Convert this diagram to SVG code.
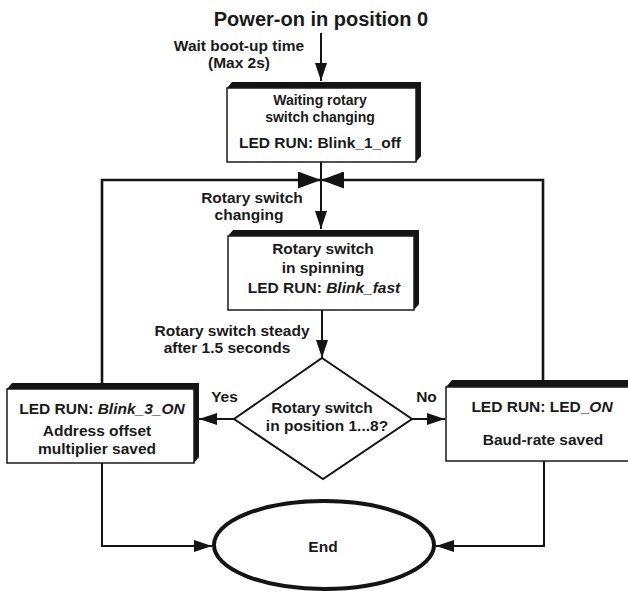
<svg xmlns="http://www.w3.org/2000/svg" width="628" height="594" viewBox="0 0 628 594">
  <style>
    text { font-family: "Liberation Sans", Arial, sans-serif; font-weight: bold; fill: #1a1a1a; text-anchor: middle; }
    .t15 { font-size: 15.5px; }
    .t14 { font-size: 14px; }
    .title { font-size: 20px; }
    .it { font-style: italic; }
    .shadow { fill: #141414; }
    .face { fill: #ffffff; stroke: #1a1a1a; stroke-width: 1.5; }
    .wire { fill: none; stroke: #141414; stroke-width: 2; }
    .loop { fill: none; stroke: #141414; stroke-width: 2.6; }
  </style>
  <defs>
    <marker id="arr" markerUnits="userSpaceOnUse" markerWidth="18" markerHeight="12" refX="18" refY="6" orient="auto">
      <path d="M0,0 L18,6 L0,12 z" fill="#141414"/>
    </marker>
    <marker id="arrBig" markerUnits="userSpaceOnUse" markerWidth="23" markerHeight="17" refX="23" refY="8.5" orient="auto">
      <path d="M0,0 L23,8.5 L0,17 z" fill="#141414"/>
    </marker>
  </defs>

  <rect width="628" height="594" fill="#ffffff"/>

  <!-- start label -->
  <g id="start">
    <text class="title" x="321" y="26">Power-on in position 0</text>
    <text class="t15" x="239" y="51">Wait boot-up time</text>
    <text class="t15" x="239" y="68">(Max 2s)</text>
  </g>

  <!-- connectors -->
  <g id="connectors">
    <path class="wire" d="M321,33 L321,81" marker-end="url(#arr)"/>
    <path class="wire" d="M321,162 L321,229" marker-end="url(#arr)"/>
    <path class="loop" d="M102,383 L102,180 L321,180" marker-end="url(#arrBig)"/>
    <path class="loop" d="M543,380 L543,180 L321,180" marker-end="url(#arrBig)"/>
    <path class="wire" d="M322,310 L322,358" marker-end="url(#arr)"/>
    <path class="wire" d="M234,419 L199,419" marker-end="url(#arr)"/>
    <path class="wire" d="M412,419 L445,419" marker-end="url(#arr)"/>
    <path class="wire" d="M102,463 L102,546 L212,546" marker-end="url(#arr)"/>
    <path class="wire" d="M544,461 L544,546 L436,546" marker-end="url(#arr)"/>
  </g>

  <!-- edge labels -->
  <g id="labels">
    <text class="t15" x="252" y="203">Rotary switch</text>
    <text class="t15" x="249" y="220">changing</text>
    <text class="t15" x="232" y="336">Rotary switch steady</text>
    <text class="t15" x="227" y="353">after 1.5 seconds</text>
    <text class="t15" x="224.5" y="402">Yes</text>
    <text class="t15" x="426.5" y="402">No</text>
  </g>

  <!-- waiting state -->
  <g id="wait">
    <polygon class="shadow" points="227,88 232,82 421,82 421,156 416,162 416,88"/>
    <rect class="face" x="227" y="88" width="189" height="74"/>
    <text class="t14" x="320" y="105">Waiting rotary</text>
    <text class="t14" x="320" y="122">switch changing</text>
    <text class="t15" x="320" y="148">LED RUN: Blink_1_off</text>
  </g>

  <!-- spinning state -->
  <g id="spinning">
    <polygon class="shadow" points="228,236 233,230 419,230 419,304 414,310 414,236"/>
    <rect class="face" x="228" y="236" width="186" height="74"/>
    <text class="t15" x="323" y="254">Rotary switch</text>
    <text class="t15" x="323" y="273">in spinning</text>
    <text class="t15" x="324" y="293">LED RUN: <tspan class="it">Blink_fast</tspan></text>
  </g>

  <!-- decision -->
  <g id="decision">
    <polygon points="322,358 412,419 323,479 234,419" fill="#ffffff" stroke="#141414" stroke-width="2"/>
    <text class="t15" x="322" y="413">Rotary switch</text>
    <text class="t15" x="327" y="431">in position 1...8?</text>
  </g>

  <!-- address branch -->
  <g id="address">
    <polygon class="shadow" points="7,389 12,383 199,383 199,457 194,463 194,389"/>
    <rect class="face" x="7" y="389" width="187" height="74"/>
    <text class="t15" x="102" y="414">LED RUN: <tspan class="it">Blink_3_ON</tspan></text>
    <text class="t15" x="97" y="436">Address offset</text>
    <text class="t15" x="97" y="454">multiplier saved</text>
  </g>

  <!-- baud-rate branch -->
  <g id="baudrate">
    <polygon class="shadow" points="446,387 452,380 660,380 660,461 446,461"/>
    <rect class="face" x="446" y="387" width="200" height="74"/>
    <text class="t15" x="542" y="412">LED RUN: LED_<tspan class="it">ON</tspan></text>
    <text class="t15" x="543" y="445">Baud-rate saved</text>
  </g>

  <!-- end -->
  <g id="end">
    <ellipse cx="324" cy="545" rx="110" ry="44" fill="#ffffff" stroke="#141414" stroke-width="4"/>
    <text class="t15" x="323" y="552">End</text>
  </g>
</svg>
